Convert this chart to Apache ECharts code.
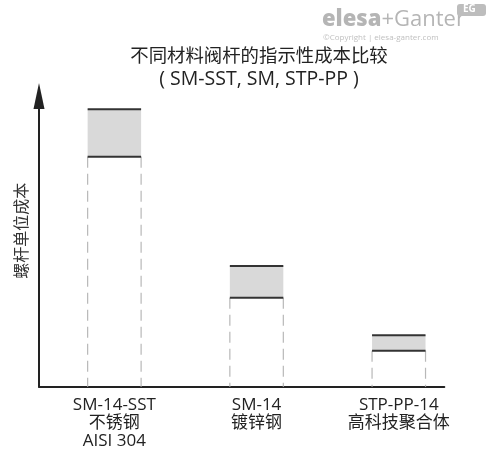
<!DOCTYPE html>
<html>
<head>
<meta charset="utf-8">
<script src="https://cdn.jsdelivr.net/npm/echarts@6/dist/echarts.min.js"></script>
<style>
html, body { margin: 0; padding: 0; background: #fff; }
#chart1 { width: 488px; height: 454px; }
</style>
</head>
<body>
<div id="chart1"></div>
<script>
// 数据
var categories = ['SM-14-SST\n不锈钢\nAISI 304', 'SM-14\n镀锌钢', 'STP-PP-14\n高科技聚合体'];
var costLow = [79.1, 30.6, 12.4];
var costHigh = [95.4, 41.5, 17.7];

var font = "'Open Sans', 'Noto Sans CJK SC', sans-serif";
var barWidth = 0.376; // in x axis units

var myChart = echarts.init(document.getElementById('chart1'));

var seriesData = categories.map(function (c, i) {
    return [i, costLow[i], costHigh[i]];
});

var option = {
    animation: false,
    title: {
        text: '{a|不同材料阀杆的指示性成本比较}\n{b|( SM-SST, SM, STP-PP )}',
        left: 259,
        textAlign: 'center',
        top: 46,
        padding: 0,
        textStyle: {
            fontFamily: font,
            fontWeight: 'normal',
            color: '#222',
            rich: {
                a: { fontFamily: font, fontSize: 18.4, lineHeight: 22.5, color: '#222' },
                b: { fontFamily: font, fontSize: 19.5, lineHeight: 22.5, color: '#222' }
            }
        }
    },
    grid: { left: 39, right: 43.7, top: 96, bottom: 67.3 },
    xAxis: {
        type: 'value',
        min: -0.53,
        max: 2.32,
        splitLine: { show: false },
        axisTick: { show: false },
        axisLine: { show: true, onZero: false, lineStyle: { color: '#222', width: 2 } },
        axisLabel: {
            customValues: [0, 1, 2],
            formatter: function (v) { return categories[Math.round(v)]; },
            fontFamily: font,
            fontSize: 17,
            lineHeight: 18,
            color: '#222',
            margin: 9
        }
    },
    yAxis: {
        type: 'value',
        min: 0,
        max: 100,
        name: '螺杆单位成本',
        nameLocation: 'middle',
        nameRotate: 90,
        nameGap: 9,
        nameTextStyle: {
            fontFamily: font,
            fontSize: 16,
            color: '#333',
            padding: [0, 0, 0, 21]
        },
        splitLine: { show: false },
        axisTick: { show: false },
        axisLabel: { show: false },
        axisLine: {
            show: true,
            onZero: false,
            symbol: ['none', 'triangle'],
            symbolSize: [11, 26],
            lineStyle: { color: '#222', width: 2 }
        }
    },
    graphic: [
        {
            type: 'text', left: 322, top: 9,
            style: {
                text: '{a|elesa}{b|+Ganter}',
                rich: {
                    a: { fontFamily: font, fontSize: 22, fontWeight: 900, fill: '#b5b5b5' },
                    b: { fontFamily: font, fontSize: 22, fill: '#b5b5b5' }
                }
            }
        },
        {
            type: 'text', left: 323, top: 34,
            style: { text: '©Copyright | elesa-ganter.com', fontFamily: font, fontSize: 8, fill: '#c0c0c0' }
        },
        {
            type: 'rect', left: 457, top: 4,
            shape: { width: 29, height: 12, r: 3 },
            style: { fill: '#bdbdbd' }
        },
        {
            type: 'text', left: 463, top: 4,
            style: { text: 'EG', fontFamily: font, fontSize: 10, fontWeight: 'bold', fill: '#fff' }
        }
    ],
    series: [{
        type: 'custom',
        data: seriesData,
        encode: { x: 0, y: [1, 2] },
        renderItem: function (params, api) {
            var i = api.value(0);
            var lo = api.coord([i, api.value(1)]);
            var hi = api.coord([i, api.value(2)]);
            var base = api.coord([i, 0]);
            var half = api.size([barWidth, 0])[0] / 2;
            var x1 = lo[0] - half, x2 = lo[0] + half;
            var solid = { stroke: '#333', lineWidth: 2 };
            var dash = { stroke: '#b8b8b8', lineWidth: 1.2, lineDash: [11, 6] };
            return {
                type: 'group',
                children: [
                    { type: 'rect', shape: { x: x1, y: hi[1], width: x2 - x1, height: lo[1] - hi[1] }, style: { fill: '#d9d9d9' } },
                    { type: 'line', shape: { x1: x1, y1: lo[1], x2: x1, y2: base[1] }, style: dash },
                    { type: 'line', shape: { x1: x2, y1: lo[1], x2: x2, y2: base[1] }, style: dash },
                    { type: 'line', shape: { x1: x1, y1: hi[1], x2: x2, y2: hi[1] }, style: solid },
                    { type: 'line', shape: { x1: x1, y1: lo[1], x2: x2, y2: lo[1] }, style: solid }
                ]
            };
        }
    }]
};

myChart.setOption(option);
</script>
</body>
</html>
